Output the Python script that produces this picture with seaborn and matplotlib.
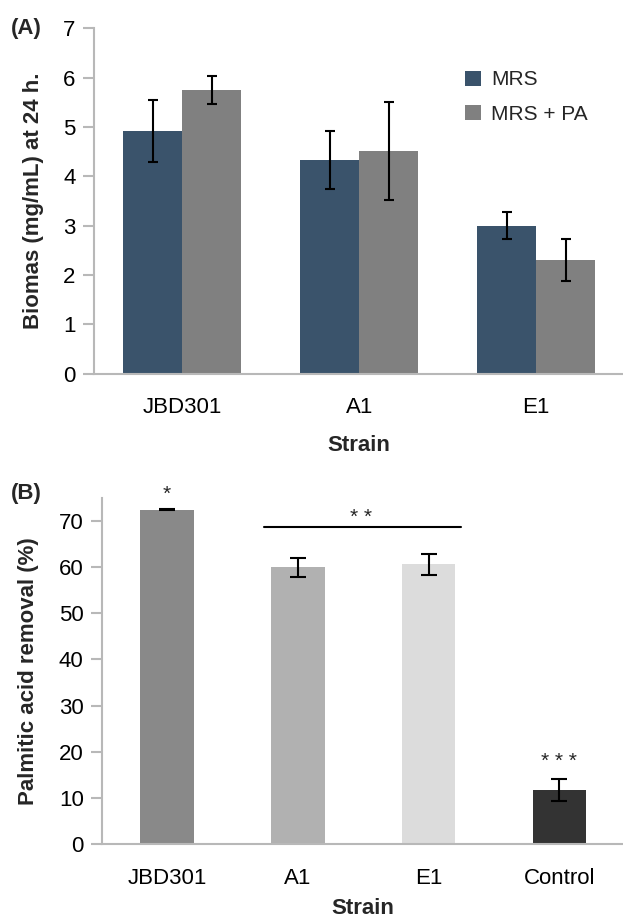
import numpy as np
import pandas as pd
import matplotlib
matplotlib.use('Agg')
import matplotlib.pyplot as plt
import seaborn as sns

sns.set_style('white')
plt.rcParams['font.family'] = ['Liberation Sans', 'DejaVu Sans']

# (A) biomass data
strains_a = ['JBD301', 'A1', 'E1']
media = ['MRS', 'MRS + PA']
biomass_mrs = [4.92, 4.33, 3.00]
biomass_pa = [5.75, 4.52, 2.30]
err_mrs = [0.635, 0.58, 0.275]
err_pa = [0.29, 0.99, 0.43]
colors_a = ['#3a536b', '#808080']

# (B) palmitic acid removal
strains_b = ['JBD301', 'A1', 'E1', 'Control']
removal = [72.5, 60.0, 60.6, 11.7]
err_removal = [0.2, 2.05, 2.2, 2.45]
colors_b = ['#898989', '#b1b1b1', '#dcdcdc', '#333333']

# significance marks
sig_labels = ['*', '* *', '* * *']
sig_x = [0.0, 1.48, 3.0]
sig_y = [75.8, 70.8, 17.8]
line_x = [0.74, 2.25]
line_y = 68.7

axis_gray = '#b8b8b8'

df_a = pd.DataFrame({
    'Strain': strains_a * 2,
    'Medium': [media[0]] * 3 + [media[1]] * 3,
    'Biomass': biomass_mrs + biomass_pa,
})
df_b = pd.DataFrame({'Strain': strains_b, 'Removal': removal})

fig = plt.figure(figsize=(6.23, 9.22), dpi=100)
ax1 = fig.add_axes([0.1505, 0.5947, 0.852, 0.3746])
ax2 = fig.add_axes([0.1633, 0.0846, 0.8395, 0.3753])


def style_axis(ax, n, xlabelpad):
    for s in ['top', 'right']:
        ax.spines[s].set_visible(False)
    for s in ['left', 'bottom']:
        ax.spines[s].set_color(axis_gray)
        ax.spines[s].set_linewidth(1.5)
    ax.set_xlim(-0.5, n - 0.5)
    ax.set_xticks(np.arange(-0.5, n, 1.0), minor=True)
    ax.tick_params(axis='x', which='major', length=0, labelsize=16, pad=17, colors='black')
    ax.tick_params(axis='x', which='minor', length=10, width=1.5, color=axis_gray)
    ax.tick_params(axis='y', length=8, width=1.5, color=axis_gray, labelsize=16, pad=5,
                   labelcolor='black', left=True)
    ax.set_xlabel('Strain', fontsize=16, fontweight='bold', labelpad=xlabelpad)


# ---- panel A ----
sns.barplot(data=df_a, x='Strain', y='Biomass', hue='Medium', palette=colors_a,
            width=0.667, errorbar=None, saturation=1, linewidth=0, ax=ax1)
for cont, errs in zip(ax1.containers, [err_mrs, err_pa]):
    xs = [p.get_x() + p.get_width() / 2 for p in cont.patches]
    hs = [p.get_height() for p in cont.patches]
    ax1.errorbar(xs, hs, yerr=errs, fmt='none', ecolor='black', elinewidth=1.5,
                 capsize=3.5, capthick=1.5)
ax1.set_ylim(0, 7)
ax1.set_yticks(range(0, 8))
ax1.set_ylabel('Biomas (mg/mL) at 24 h.', fontsize=16, fontweight='bold', labelpad=14)
style_axis(ax1, 3, 12)
ax1.legend(loc='upper left', bbox_to_anchor=(0.70, 0.878), frameon=False, fontsize=15,
           handlelength=0.75, handleheight=0.75, handletextpad=0.5, labelspacing=0.75,
           borderaxespad=0, borderpad=0)

# ---- panel B ----
sns.barplot(data=df_b, x='Strain', y='Removal', hue='Strain', palette=colors_b,
            width=0.41, errorbar=None, saturation=1, linewidth=0, legend=False, ax=ax2)
xs = [p.get_x() + p.get_width() / 2 for p in ax2.patches]
hs = [p.get_height() for p in ax2.patches]
ax2.errorbar(xs, hs, yerr=err_removal, fmt='none', ecolor='black', elinewidth=1.5,
             capsize=5.5, capthick=1.5)
ax2.set_ylim(0, 75)
ax2.set_yticks(range(0, 80, 10))
ax2.set_ylabel('Palmitic acid removal (%)', fontsize=16, fontweight='bold', labelpad=14)
style_axis(ax2, 4, 7)

for lab, x, y in zip(sig_labels, sig_x, sig_y):
    ax2.text(x, y, lab, ha='center', va='center', fontsize=15, clip_on=False)
ax2.plot(line_x, [line_y, line_y], color='black', lw=1.5, clip_on=False)

fig.text(0.017, 0.969, '(A)', fontsize=16, fontweight='bold', va='center', ha='left')
fig.text(0.017, 0.465, '(B)', fontsize=16, fontweight='bold', va='center', ha='left')

fig.savefig('out.png', dpi=100)
